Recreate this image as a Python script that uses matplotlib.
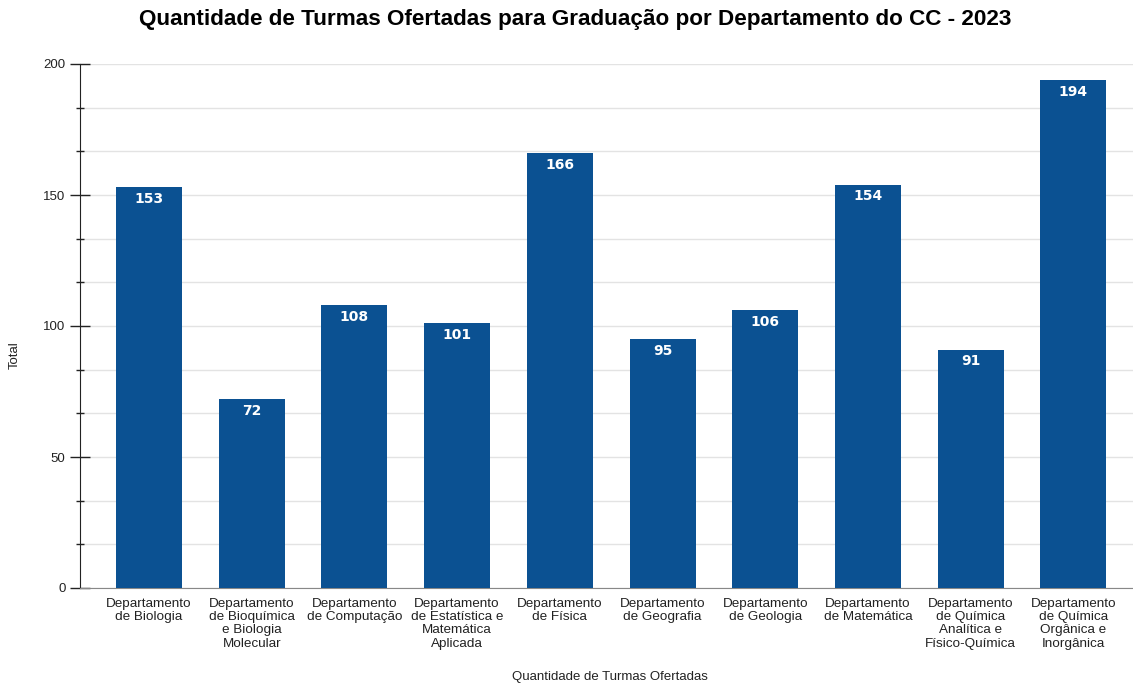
import numpy as np
import matplotlib.pyplot as plt
from matplotlib.ticker import MultipleLocator

departamentos = [
    'Departamento\nde Biologia',
    'Departamento\nde Bioquímica\ne Biologia\nMolecular',
    'Departamento\nde Computação',
    'Departamento\nde Estatística e\nMatemática\nAplicada',
    'Departamento\nde Física',
    'Departamento\nde Geografia',
    'Departamento\nde Geologia',
    'Departamento\nde Matemática',
    'Departamento\nde Química\nAnalítica e\nFísico-Química',
    'Departamento\nde Química\nOrgânica e\nInorgânica',
]
totais = [153, 72, 108, 101, 166, 95, 106, 154, 91, 194]

plt.rcParams['font.family'] = ['Liberation Sans', 'DejaVu Sans']

fig = plt.figure(figsize=(11.33, 6.83), dpi=100)
ax = fig.add_axes([80 / 1133, 95 / 683, 1053 / 1133, 524 / 683])

x = np.arange(len(totais))
cor = '#0b5192'
ax.bar(x, totais, width=0.643, color=cor, zorder=3)

for xi, v in zip(x, totais):
    ax.annotate(str(v), (xi, v), xytext=(0, -3.5), textcoords='offset points',
                ha='center', va='top', color='white', fontweight='bold',
                fontsize=10, family=['DejaVu Sans'], zorder=4)

ax.set_xlim(-0.672, 9.58)
ax.set_ylim(0, 200)
ax.yaxis.set_major_locator(MultipleLocator(50))
ax.yaxis.set_minor_locator(MultipleLocator(50 / 3))
ax.grid(axis='y', which='both', color='#e3e3e3', linewidth=1, zorder=0)

ax.set_xticks(x)
ax.set_xticklabels(departamentos, fontsize=9.7, linespacing=1.15, color='#222222')
ax.tick_params(axis='x', length=0, pad=7)
ax.tick_params(axis='y', which='major', direction='inout', length=14, width=1,
               labelsize=9.5, colors='#222222')
ax.tick_params(axis='y', which='minor', direction='inout', length=6, width=1,
               color='#222222')

for s in ['top', 'right']:
    ax.spines[s].set_visible(False)
ax.spines['left'].set_color('#222222')
ax.spines['bottom'].set_color('#888888')

fig.text(15 / 1133, 1 - 355 / 683, 'Total', rotation=90, ha='center',
         va='center', fontsize=9.5, color='#222222')
fig.text(610 / 1133, 1 - 677 / 683, 'Quantidade de Turmas Ofertadas', ha='center',
         va='center', fontsize=9.5, color='#222222')
fig.text(575 / 1133, 1 - 20 / 683,
         'Quantidade de Turmas Ofertadas para Graduação por Departamento do CC - 2023',
         ha='center', va='center', fontsize=16.2, fontweight='bold')

fig.savefig('out.png', dpi=100)
